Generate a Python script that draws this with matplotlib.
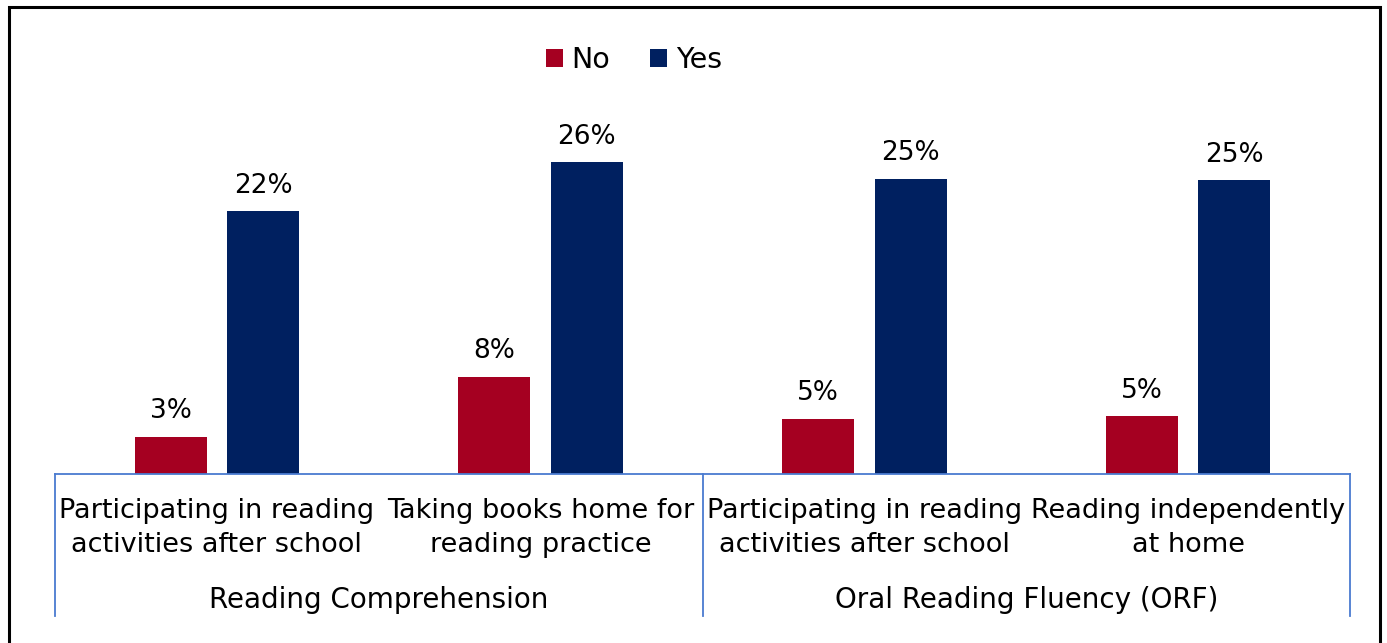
import matplotlib
matplotlib.use("Agg")
import matplotlib.pyplot as plt
from matplotlib.patches import Rectangle
from matplotlib.transforms import blended_transform_factory

categories = [
    "Participating in reading\nactivities after school",
    "Taking books home for\nreading practice",
    "Participating in reading\nactivities after school",
    "Reading independently\nat home",
]
groups = ["Reading Comprehension", "Oral Reading Fluency (ORF)"]
group_sizes = [2, 2]
no_values = [3.1, 8.1, 4.6, 4.8]
yes_values = [21.9, 26.0, 24.6, 24.5]
series_names = ["No", "Yes"]
colors = ["#A50021", "#002060"]

W, H = 1387, 643
fig = plt.figure(figsize=(W / 100, H / 100), dpi=100)
plt.rcParams["font.family"] = ["DejaVu Sans"]

left, right, base, top = 55, 1350, 474, 100
ax = fig.add_axes([left / W, 1 - base / H, (right - left) / W, (base - top) / H])

n = len(categories)
xs = list(range(n))
bw = 0.222
off = 0.143
b1 = ax.bar([x - off for x in xs], no_values, bw, color=colors[0], label=series_names[0])
b2 = ax.bar([x + off for x in xs], yes_values, bw, color=colors[1], label=series_names[1])

for bars, vals in ((b1, no_values), (b2, yes_values)):
    for r, v in zip(bars, vals):
        ax.annotate(f"{int(v + 0.5):d}%", (r.get_x() + r.get_width() / 2, v),
                    xytext=(0, 9), textcoords="offset points",
                    ha="center", va="bottom", fontsize=19, color="#000000")

ax.set_xlim(-0.5, n - 0.5)
ax.set_ylim(0, (base - top) / 12.0)
for s in ["top", "right", "left"]:
    ax.spines[s].set_visible(False)
axis_color = "#4A7BD0"
ax.spines["bottom"].set_color(axis_color)
ax.spines["bottom"].set_linewidth(1.3)
ax.set_yticks([])
ax.set_xticks([])

trans = blended_transform_factory(ax.transData, ax.transAxes)
sep_bottom = -(616 - base) / (base - top)
edges = [-0.5]
acc = -0.5
for g in group_sizes:
    acc += g
    edges.append(acc)
for e in edges:
    ax.plot([e, e], [0, sep_bottom], transform=trans, color=axis_color,
            lw=1.3, clip_on=False)

lab_y = -(528 - base) / (base - top)
for x, c in zip(xs, categories):
    ax.text(x, lab_y, c, transform=trans, ha="center", va="center",
            fontsize=19.5, linespacing=1.37, color="#000000")

grp_y = -(600 - base) / (base - top)
start = -0.5
for g, size in zip(groups, group_sizes):
    ax.text(start + size / 2, grp_y, g, transform=trans, ha="center",
            va="center", fontsize=20, color="#000000")
    start += size

leg = fig.legend(handles=[b1, b2], labels=series_names, loc="center",
                 bbox_to_anchor=(634 / W, 1 - 60 / H), ncol=2, frameon=False,
                 fontsize=20.5, handlelength=0.6, handleheight=0.6,
                 handletextpad=0.3, columnspacing=1.4)

fig.patches.append(Rectangle((9 / W, -0.05), (1380 - 9) / W, 1.05 - 7 / H,
                             transform=fig.transFigure, fill=False,
                             edgecolor="#000000", lw=2.2))

fig.savefig("out.png", dpi=100)
